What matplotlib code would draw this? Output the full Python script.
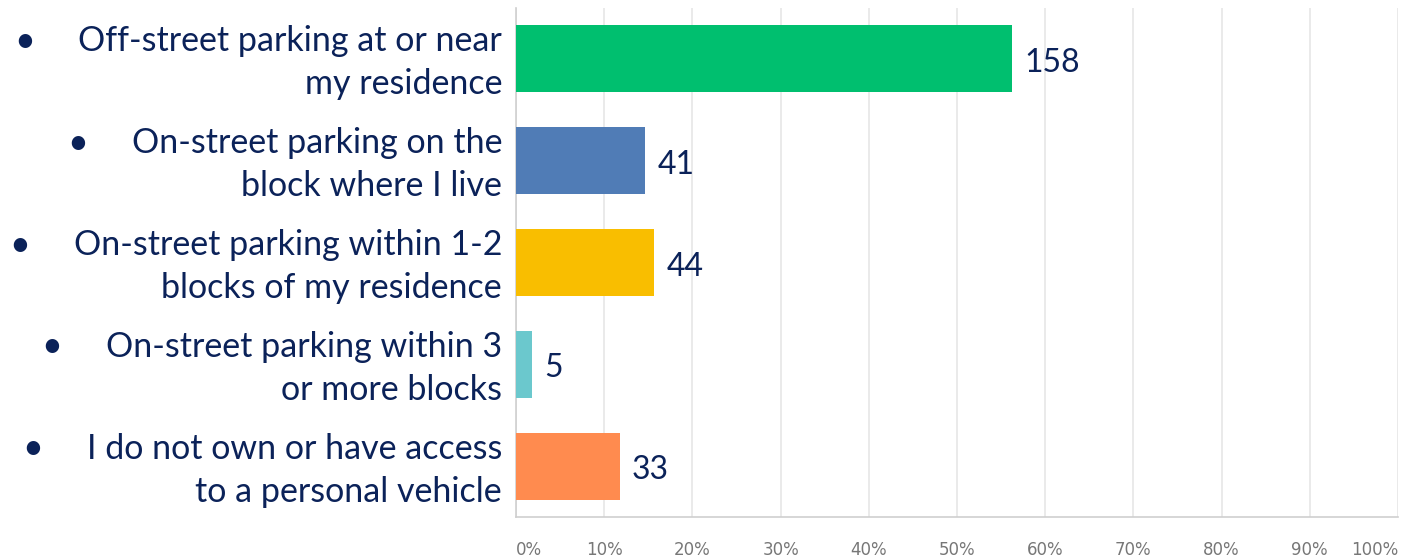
import matplotlib
matplotlib.use("Agg")
import matplotlib.pyplot as plt
from matplotlib.ticker import FixedLocator

categories = [
    "Off-street parking at or near\nmy residence",
    "On-street parking on the\nblock where I live",
    "On-street parking within 1-2\nblocks of my residence",
    "On-street parking within 3\nor more blocks",
    "I do not own or have access\nto a personal vehicle",
]
counts = [158, 41, 44, 5, 33]
colors = ["#00BF6F", "#507CB6", "#F9BE00", "#6BC8CD", "#FF8B4F"]
xticks = [0, 10, 20, 30, 40, 50, 60, 70, 80, 90, 100]
xtick_labels = ["0%", "10%", "20%", "30%", "40%", "50%", "60%", "70%", "80%", "90%", "100%"]

total = sum(counts)
percents = [c / total * 100 for c in counts]

text_color = "#0B2259"
label_font = "Lato"
PT = 72 / 100  # points per pixel at dpi 100

fig = plt.figure(figsize=(14.1, 5.6), dpi=100)
ax = fig.add_axes([516 / 1410, 1 - 517 / 560, (1398 - 516) / 1410, (517 - 8) / 560])

ypos = list(range(len(categories)))
ax.barh(ypos, percents, height=0.66, color=colors, zorder=3)
ax.set_ylim(len(categories) - 0.5, -0.5)
ax.set_xlim(0, 100)

ax.xaxis.set_major_locator(FixedLocator(xticks))
ax.set_xticklabels(xtick_labels, fontsize=12, color="#777777", family="DejaVu Sans")
ax.tick_params(axis="x", length=0, pad=17)
tl = ax.get_xticklabels()
tl[0].set_horizontalalignment("left")
tl[-1].set_horizontalalignment("right")
ax.grid(axis="x", color="#E6E6E6", linewidth=1.2, zorder=0)

ax.set_yticks(ypos)
ax.set_yticklabels([])
ax.tick_params(axis="y", length=0)

for s in ["top", "right"]:
    ax.spines[s].set_visible(False)
for s in ["left", "bottom"]:
    ax.spines[s].set_color("#CFCFCF")
    ax.spines[s].set_linewidth(1.2)

fig.canvas.draw()
renderer = fig.canvas.get_renderer()

line_gap = 43      # px between the two lines of a label
block_shift = -4   # px (negative = downwards)
for y, cat in zip(ypos, categories):
    lines = cat.split("\n")
    first_t = None
    for i, line in enumerate(lines):
        dy = (line_gap / 2 - i * line_gap + block_shift) * PT
        t = ax.annotate(line, xy=(0, y), xycoords=("axes fraction", "data"),
                        xytext=(-10, dy), textcoords="offset points",
                        ha="right", va="center", fontsize=24.5,
                        family=label_font, color=text_color)
        if i == 0:
            first_t = t
            first_dy = dy
    bb = first_t.get_window_extent(renderer)
    ax.annotate("\u2022", xy=(0, y), xycoords=("axes fraction", "data"),
                xytext=(-10 - (bb.width + 54) * PT, first_dy), textcoords="offset points",
                ha="center", va="center", fontsize=26,
                family=label_font, color=text_color)

# value labels
for y, p, c in zip(ypos, percents, counts):
    ax.annotate(str(c), xy=(p, y), xytext=(9, -3), textcoords="offset points",
                ha="left", va="center", fontsize=23, family=label_font,
                color=text_color)

fig.savefig("out.png", dpi=100)
